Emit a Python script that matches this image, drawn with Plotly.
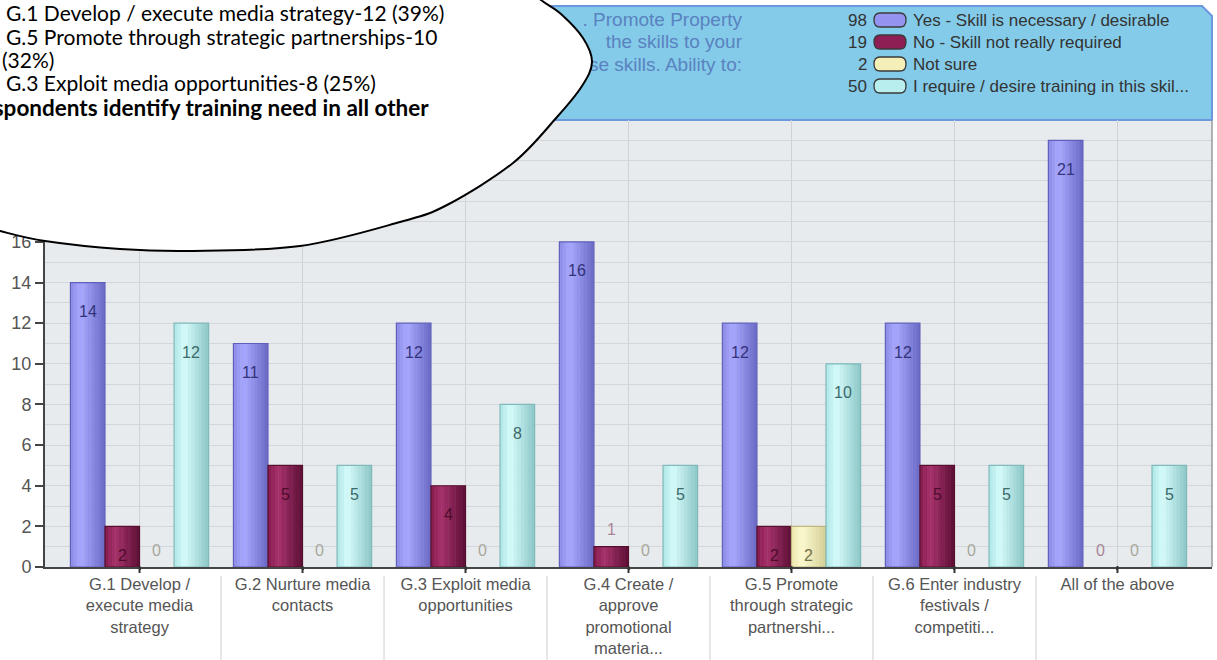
import plotly.graph_objects as go

# ---- data ----
categories = [
    "G.1 Develop /<br>execute media<br>strategy",
    "G.2 Nurture media<br>contacts",
    "G.3 Exploit media<br>opportunities",
    "G.4 Create /<br>approve<br>promotional<br>materia...",
    "G.5 Promote<br>through strategic<br>partnershi...",
    "G.6 Enter industry<br>festivals /<br>competiti...",
    "All of the above",
]
yes_vals = [14, 11, 12, 16, 12, 12, 21]
no_vals = [2, 5, 4, 1, 2, 5, 0]
not_sure_vals = [0, 0, 0, 0, 2, 0, 0]
training_vals = [12, 5, 8, 5, 10, 5, 5]

series_names = [
    "Yes - Skill is necessary / desirable",
    "No - Skill not really required",
    "Not sure",
    "I require / desire training in this skil...",
]
y_ticks = [0, 2, 4, 6, 8, 10, 12, 14, 16]

panel_title_lines = [". Promote Property", "the skills to your", "se skills. Ability to:"]
note_lines = [
    "G.1 Develop / execute media strategy-12 (39%)",
    "G.5 Promote through strategic partnerships-10",
    "(32%)",
    "G.3 Exploit media opportunities-8 (25%)",
]
note_bold = "Respondents identify training need in all other"

# ---- geometry (pixels) ----
W, H = 1217, 660
L, R, T, B = 45, 1212, 120, 567          # bar plot area
X_RANGE = [-0.58, 6.58]
Y_RANGE = [0, 22]
TOP_DOM = (B - T) / B                    # main plot share of the paper height


def px2x(px):
    return (px - L) / (R - L)


def py2y(py):
    return (B - py) / B


# ---- colours ----
# cylinder shading: left edge, highlight, right edge
shade = [
    ("#8b8be6", "#a8a8ff", "#6a6ac4"),
    ("#861a4c", "#a6326c", "#5c0e34"),
    ("#ece7ac", "#fcf9d0", "#d3ce94"),
    ("#aee6e6", "#d6fbfb", "#8cc6c6"),
]
fills = ["#9494f0", "#8e1f55", "#f3efb6", "#b9eeee"]
edges = ["#6060bc", "#55102f", "#bdb87e", "#7fb9b9"]
text_in = ["#33337a", "#4e0c2a", "#757046", "#3b6a6b"]
text_out = ["#8a8aa8", "#a88498", "#a8a89c", "#9aa8a8"]

series = [yes_vals, no_vals, not_sure_vals, training_vals]
bar_w = 0.212
n_strips = 10
x_idx = list(range(len(categories)))


def hex2rgb(h):
    h = h.lstrip("#")
    return [int(h[i:i + 2], 16) for i in (0, 2, 4)]


def mix(c1, c2, t):
    a, b = hex2rgb(c1), hex2rgb(c2)
    return "rgb({},{},{})".format(*[round(a[k] + (b[k] - a[k]) * t) for k in range(3)])


def shade_at(s, t):
    left, hi, right = shade[s]
    if t < 0.3:
        return mix(left, hi, t / 0.3)
    return mix(hi, right, (t - 0.3) / 0.7)


fig = go.Figure()
annotations = []

for s, vals in enumerate(series):
    off = -2 * bar_w + s * bar_w
    step = bar_w / n_strips
    for j in range(n_strips):
        t = (j + 0.5) / n_strips
        fig.add_trace(go.Bar(
            x=x_idx, y=vals,
            width=step + (0.003 if j < n_strips - 1 else 0), offset=off + j * step,
            marker=dict(color=shade_at(s, t), line=dict(width=0)),
            showlegend=False, hoverinfo="skip",
        ))
    fig.add_trace(go.Bar(
        x=x_idx, y=vals, width=bar_w, offset=off, name=series_names[s],
        marker=dict(color="rgba(0,0,0,0)",
                    line=dict(color=edges[s], width=[1.2 if v else 0 for v in vals])),
        showlegend=False, hoverinfo="skip",
    ))
    for i, v in enumerate(vals):
        inside = v >= 2
        annotations.append(dict(
            x=i + off + bar_w / 2, y=v, xref="x", yref="y",
            text=str(v), showarrow=False, yanchor="middle",
            yshift=-29 if inside else 17,
            font=dict(family="Arial", size=16,
                      color=text_in[s] if inside else text_out[s]),
        ))

# panel title, drawn in a pixel-scaled strip above the bars so the bubble can cover it
fig.add_trace(go.Scatter(
    x=[742] * 3, y=[21, 43, 66], xaxis="x2", yaxis="y2",
    mode="text", text=panel_title_lines, textposition="middle left",
    textfont=dict(family="Arial", size=19, color="#5a82c0"),
    showlegend=False, hoverinfo="skip",
))

shapes = []

# plot background
shapes.append(dict(type="rect", xref="paper", yref="paper", x0=0, x1=1, y0=0, y1=TOP_DOM,
                   fillcolor="#e8ebee", line=dict(width=0), layer="below"))

# legend panel
panel = [(380, 6), (1202, 6), (1212, 16), (1212, 120), (380, 120)]
path = "M " + " L ".join(f"{px2x(a):.5f},{py2y(b):.5f}" for a, b in panel) + " Z"
shapes.append(dict(type="path", path=path, xref="paper", yref="paper",
                   fillcolor="#84cbe9", line=dict(color="#6b98de", width=2),
                   layer="below"))

# legend rows
row_y = [20, 42, 64, 86]
for s, py in enumerate(row_y):
    total = sum(series[s])
    annotations.append(dict(
        x=px2x(869), y=py2y(py), xref="paper", yref="paper",
        text=str(total), showarrow=False, xanchor="right", yanchor="middle",
        font=dict(family="Arial", size=17, color="#333333"),
    ))
    annotations.append(dict(
        x=px2x(911), y=py2y(py), xref="paper", yref="paper",
        text=series_names[s], showarrow=False, xanchor="left", yanchor="middle",
        font=dict(family="Arial", size=17, color="#333333"),
    ))
    x0, x1, h, r = 874, 906, 14, 6
    y0, y1 = py - h / 2, py + h / 2
    pts = (f"M {px2x(x0 + r)},{py2y(y0)} L {px2x(x1 - r)},{py2y(y0)} "
           f"Q {px2x(x1)},{py2y(y0)} {px2x(x1)},{py2y(py)} "
           f"Q {px2x(x1)},{py2y(y1)} {px2x(x1 - r)},{py2y(y1)} "
           f"L {px2x(x0 + r)},{py2y(y1)} "
           f"Q {px2x(x0)},{py2y(y1)} {px2x(x0)},{py2y(py)} "
           f"Q {px2x(x0)},{py2y(y0)} {px2x(x0 + r)},{py2y(y0)} Z")
    shapes.append(dict(type="path", path=pts, xref="paper", yref="paper",
                       fillcolor=fills[s], line=dict(color="#3a3a3a", width=1.3),
                       layer="above"))

# right frame edge of the plot
shapes.append(dict(type="line", xref="paper", yref="paper", x0=1, x1=1, y0=0, y1=TOP_DOM,
                   line=dict(color="#9a9a9a", width=1.5)))

# category tick marks and separators between category labels
for k in x_idx:
    shapes.append(dict(type="line", xref="x", yref="paper", x0=k, x1=k,
                       y0=py2y(566), y1=py2y(573), line=dict(color="#333333", width=2)))
for k in range(len(categories) - 1):
    shapes.append(dict(type="line", xref="x", yref="paper", x0=k + 0.5, x1=k + 0.5,
                       y0=py2y(576), y1=py2y(662), line=dict(color="#cfcfcf", width=1)))

# callout bubble
outline = [(-30, 222), (0, 231), (45, 241), (120, 249), (190, 251), (300, 246),
           (400, 222), (447, 205), (513, 163), (557, 117), (582, 86), (592, 62),
           (583, 38), (561, 14), (541, 0), (530, -12)]


def bez(points):
    d = f"M {px2x(points[0][0]):.5f},{py2y(points[0][1]):.5f}"
    n = len(points)
    for i in range(n - 1):
        p0 = points[i - 1] if i > 0 else points[i]
        p1, p2 = points[i], points[i + 1]
        p3 = points[i + 2] if i + 2 < n else points[i + 1]
        c1 = (p1[0] + (p2[0] - p0[0]) / 6, p1[1] + (p2[1] - p0[1]) / 6)
        c2 = (p2[0] - (p3[0] - p1[0]) / 6, p2[1] - (p3[1] - p1[1]) / 6)
        d += (f" C {px2x(c1[0]):.5f},{py2y(c1[1]):.5f} {px2x(c2[0]):.5f},{py2y(c2[1]):.5f}"
              f" {px2x(p2[0]):.5f},{py2y(p2[1]):.5f}")
    return d


bubble = bez(outline) + f" L {px2x(-30):.5f},{py2y(-12):.5f} Z"
shapes.append(dict(type="path", path=bubble, xref="paper", yref="paper",
                   fillcolor="white", line=dict(color="black", width=2), layer="above"))

# bubble text
note_x = [4, 4, 0, 4]
note_y = [12, 36, 59, 82]
for txt, nx, ny in zip(note_lines, note_x, note_y):
    annotations.append(dict(
        x=px2x(nx), y=py2y(ny), xref="paper", yref="paper", text=txt,
        showarrow=False, xanchor="left", yanchor="middle",
        font=dict(family="Lato", size=21, color="black"),
    ))
annotations.append(dict(
    x=px2x(-34), y=py2y(107), xref="paper", yref="paper", text=f"<b>{note_bold}</b>",
    showarrow=False, xanchor="left", yanchor="middle",
    font=dict(family="Lato", size=22.5, color="black"),
))

fig.update_layout(
    width=W, height=H,
    margin=dict(l=L, r=W - R, t=0, b=H - B, pad=0),
    paper_bgcolor="white", plot_bgcolor="rgba(0,0,0,0)",
    barmode="overlay",
    shapes=shapes, annotations=annotations,
    font=dict(family="Arial", color="#555555"),
    xaxis=dict(
        domain=[0, 1], range=X_RANGE, tickvals=x_idx, ticktext=categories,
        ticks="outside", ticklen=1, tickcolor="#333333", tickwidth=2,
        showline=True, linecolor="#444444", linewidth=2,
        showgrid=True, gridcolor="#cfd3d7", gridwidth=1,
        tickfont=dict(family="Arial", size=16.5, color="#555555"),
        zeroline=False, fixedrange=True, automargin=False,
    ),
    yaxis=dict(
        domain=[0, TOP_DOM], range=Y_RANGE, tickvals=y_ticks,
        ticks="outside", ticklen=8, tickcolor="#444444", tickwidth=2,
        showline=True, linecolor="#444444", linewidth=2,
        showgrid=True, gridcolor="#d3d7db", gridwidth=1,
        minor=dict(dtick=1, showgrid=True, gridcolor="#d3d7db", gridwidth=1),
        tickfont=dict(family="Arial", size=18, color="#555555"),
        zeroline=False, fixedrange=True, automargin=False,
    ),
    xaxis2=dict(domain=[0, 1], range=[L, R], anchor="y2", visible=False, fixedrange=True),
    yaxis2=dict(domain=[TOP_DOM, 1], range=[T, 0], anchor="x2", visible=False, fixedrange=True),
)

fig.write_html("out.html")
